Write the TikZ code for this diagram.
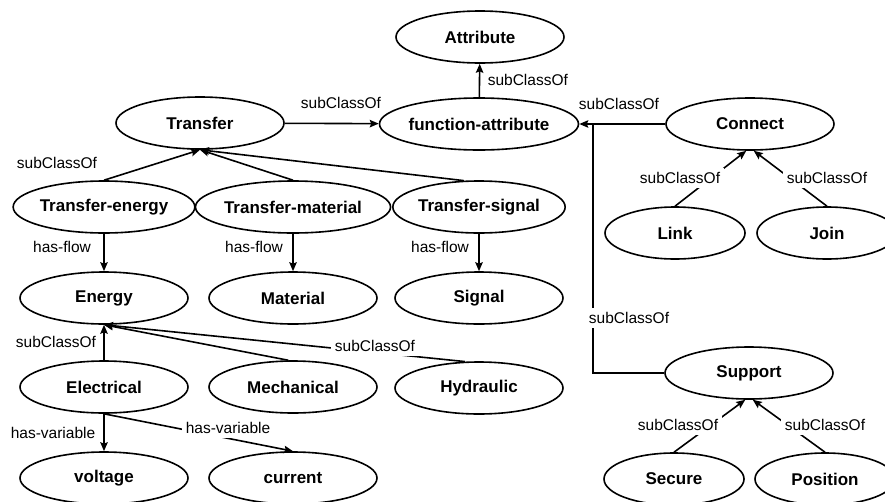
\documentclass[tikz,border=0pt]{standalone}
\usepackage{fontspec}
\setmainfont{Liberation Sans}
\usetikzlibrary{shapes.geometric, arrows.meta}

\begin{document}
\begin{tikzpicture}[x=1pt, y=-1pt, >={Stealth[length=9pt, width=7.5pt, inset=1.5pt]}, line width=1.6pt,
	cls/.style={ellipse, draw, minimum width=168pt, minimum height=52pt, inner sep=0pt, font=\fontsize{17}{20}\selectfont\bfseries},
	small/.style={cls, minimum width=140pt},
	lbl/.style={fill=white, inner sep=4pt, font=\fontsize{15.5}{18}\selectfont}]
	\useasboundingbox (0,0) rectangle (885,501);
	% Classes
	\node[cls] (attr) at (480,37) {Attribute};
	\node[cls] (fattr) at (479,124) {function-attribute};
	\node[cls] (transfer) at (200,123) {Transfer};
	\node[cls] (tenergy) at (104,207) {Transfer-energy};
	\node[cls] (tmaterial) at (293,207) {Transfer-material};
	\node[cls] (tsignal) at (479,207) {Transfer-signal};
	\node[cls] (energy) at (104,298) {Energy};
	\node[cls] (material) at (293,298) {Material};
	\node[cls] (signal) at (479,298) {Signal};
	\node[cls] (electrical) at (104,387) {Electrical};
	\node[cls] (mechanical) at (293,387) {Mechanical};
	\node[cls] (hydraulic) at (479,388) {Hydraulic};
	\node[cls] (voltage) at (104,478) {voltage};
	\node[cls] (current) at (293,478) {current};
	\node[cls] (connect) at (750,124) {Connect};
	\node[small] (link) at (675,233) {Link};
	\node[small] (join) at (827,233) {Join};
	\node[cls] (support) at (749,373) {Support};
	\node[small] (secure) at (674,479) {Secure};
	\node[small] (position) at (825,479) {Position};
	\coordinate (jn) at (593,124);
	% subClassOf links
	\draw[->] (fattr) -- (attr);
	\draw[->] (transfer) -- (fattr);
	\draw[->] (connect) -- (fattr);
	\draw (support.west) -| (jn);
	\draw[->] (tenergy.north) -- (transfer.south);
	\draw[->] (tmaterial.north) -- (transfer.south);
	\draw[->] (tsignal.120) -- (transfer.south);
	\draw[->] (electrical) -- (energy);
	\draw[->] (mechanical.100) -- (energy.south);
	\draw[->] (hydraulic.118) -- (energy.south);
	\draw[->] (link.north) -- (connect.262);
	\draw[->] (join.north) -- (connect.278);
	\draw[->] (secure.north) -- (support.262);
	\draw[->] (position.north) -- (support.278);
	% has-flow and has-variable
	\draw[->] (tenergy) -- (energy);
	\draw[->] (tmaterial) -- (material);
	\draw[->] (tsignal) -- (signal);
	\draw[->] (electrical) -- (voltage);
	\draw[->] (electrical.south) -- (current.north);
	% Labels
	\node[lbl, anchor=west] (l-attr) at (483,80) {subClassOf};
	\node[lbl] (l-transfer) at (341,103) {subClassOf};
	\node[lbl] (l-connect) at (619,104) {subClassOf};
	\node[lbl] (l-support) at (629,318) {subClassOf};
	\node[lbl] (l-tenergy) at (57,163) {subClassOf};
	\node[lbl] (l-flow1) at (62,247) {has-flow};
	\node[lbl] (l-flow2) at (254,247) {has-flow};
	\node[lbl] (l-flow3) at (440,247) {has-flow};
	\node[lbl] (l-electrical) at (56,342) {subClassOf};
	\node[lbl] (l-hydraulic) at (375,346) {subClassOf};
	\node[lbl] (l-voltage) at (53,433) {has-variable};
	\node[lbl] (l-current) at (228,428) {has-variable};
	\node[lbl] (l-link) at (680,178) {subClassOf};
	\node[lbl] (l-join) at (827,178) {subClassOf};
	\node[lbl] (l-secure) at (678,425) {subClassOf};
	\node[lbl] (l-position) at (825,425) {subClassOf};
\end{tikzpicture}
\end{document}
